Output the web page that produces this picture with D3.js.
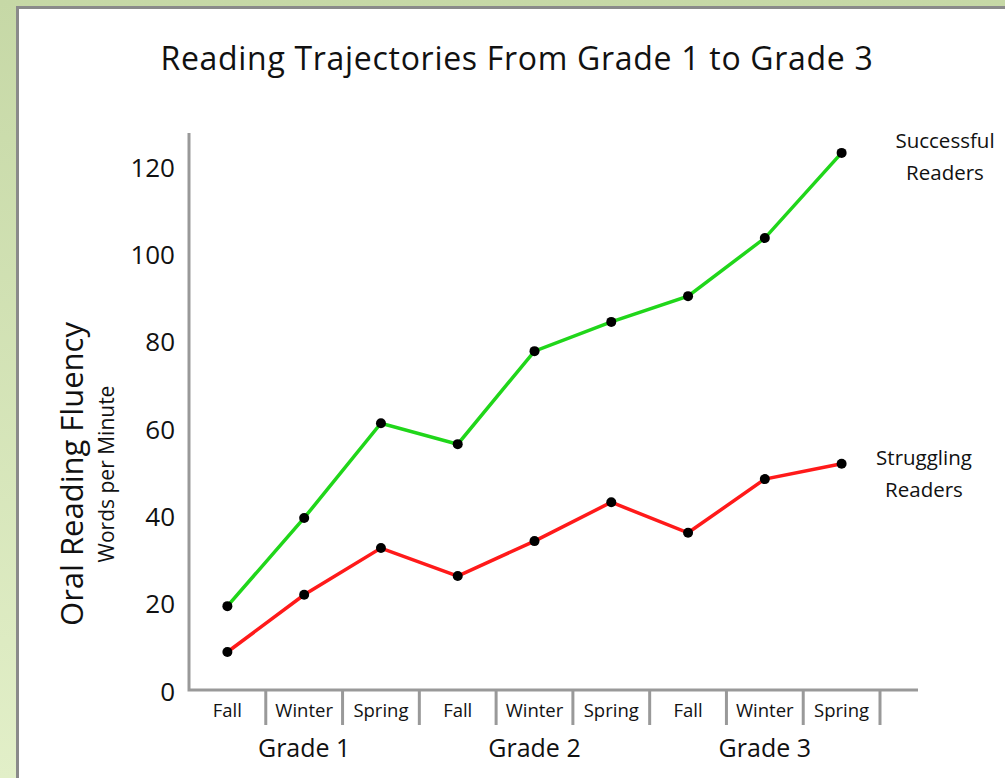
<!DOCTYPE html>
<html lang="en">
<head>
<meta charset="UTF-8">
<title>Reading Trajectories</title>
<script src="https://cdn.jsdelivr.net/npm/d3@7"></script>
<style>
  html, body { margin: 0; padding: 0; }
  body { width: 1005px; height: 778px; overflow: hidden; }
  text { font-family: "Open Sans", "Noto Sans", sans-serif; fill: #111; }
</style>
</head>
<body>
<div id="chart"></div>
<script>
// data
const seasons = ["Fall", "Winter", "Spring", "Fall", "Winter", "Spring", "Fall", "Winter", "Spring"];
const grades = ["Grade 1", "Grade 2", "Grade 3"];
const successful = [19.2, 39.4, 61.1, 56.3, 77.6, 84.3, 90.2, 103.5, 123];
const struggling = [8.7, 21.8, 32.5, 26.1, 34.1, 43.0, 36.0, 48.3, 51.8];
const yTicks = [0, 20, 40, 60, 80, 100, 120];

const w = 1005, h = 778;
const padLeft = 189, padRight = 880, padBottom = 690, padTop = 166;

const svg = d3.select("#chart").append("svg")
    .attr("width", w)
    .attr("height", h);

const defs = svg.append("defs");
const grad = defs.append("linearGradient")
    .attr("id", "bg").attr("x1", 0).attr("y1", 0).attr("x2", 0).attr("y2", 1);
grad.append("stop").attr("offset", "0%").attr("stop-color", "#c6d8a6");
grad.append("stop").attr("offset", "100%").attr("stop-color", "#e2efc8");

svg.append("rect").attr("width", w).attr("height", h).attr("fill", "url(#bg)");
// white panel with grey edge
svg.append("rect").attr("x", 16).attr("y", 6).attr("width", w).attr("height", h)
    .attr("fill", "#8a8a8a");
svg.append("rect").attr("x", 19).attr("y", 9).attr("width", w).attr("height", h)
    .attr("fill", "#fff");

const x = d3.scaleBand()
    .domain(d3.range(seasons.length))
    .range([padLeft, padRight]);
const y = d3.scaleLinear()
    .domain([0, 120])
    .range([padBottom, padTop]);

// title
svg.append("text")
    .attr("x", 517).attr("y", 70)
    .attr("text-anchor", "middle")
    .style("font-size", "32px")
    .style("letter-spacing", "0.7px")
    .text("Reading Trajectories From Grade 1 to Grade 3");

// y axis
const yAxis = d3.axisLeft(y).tickValues(yTicks).tickSize(0).tickPadding(14);
const gy = svg.append("g")
    .attr("transform", "translate(" + padLeft + ",2)")
    .call(yAxis);
gy.select(".domain").remove();
gy.selectAll("text").style("font-size", "26px").style("font-family", "Open Sans, sans-serif").attr("fill", "#111");

// axis lines
svg.append("path")
    .attr("d", "M" + padLeft + "," + 133 + "V" + padBottom + "H" + 918)
    .attr("fill", "none")
    .attr("stroke", "#999")
    .attr("stroke-width", 3);

// x ticks on band edges
svg.selectAll(".xtick")
    .data(d3.range(1, seasons.length + 1))
    .enter().append("line")
    .attr("class", "xtick")
    .attr("x1", d => x(d - 1) + x.bandwidth())
    .attr("x2", d => x(d - 1) + x.bandwidth())
    .attr("y1", padBottom)
    .attr("y2", padBottom + 35)
    .attr("stroke", "#999")
    .attr("stroke-width", 3);

svg.selectAll(".season")
    .data(seasons)
    .enter().append("text")
    .attr("class", "season")
    .attr("x", (d, i) => x(i) + x.bandwidth() / 2)
    .attr("y", padBottom + 27)
    .attr("text-anchor", "middle")
    .style("font-size", "18.5px")
    .text(d => d);

svg.selectAll(".grade")
    .data(grades)
    .enter().append("text")
    .attr("class", "grade")
    .attr("x", (d, i) => x(i * 3) + x.bandwidth() * 1.5)
    .attr("y", padBottom + 67)
    .attr("text-anchor", "middle")
    .style("font-size", "25px")
    .text(d => d);

// y axis titles
svg.append("text")
    .attr("transform", "translate(83,474) rotate(-90)")
    .attr("text-anchor", "middle")
    .style("font-size", "31px")
    .text("Oral Reading Fluency");
svg.append("text")
    .attr("transform", "translate(114,474) rotate(-90)")
    .attr("text-anchor", "middle")
    .style("font-size", "21px")
    .text("Words per Minute");

// series
const line = d3.line()
    .x((d, i) => x(i) + x.bandwidth() / 2)
    .y(d => y(d));

const series = [
    { values: successful, color: "#20d61a", label: ["Successful", "Readers"], lx: 945, ly: 148 },
    { values: struggling, color: "#ff1a1a", label: ["Struggling", "Readers"], lx: 924, ly: 465 }
];

series.forEach(s => {
    svg.append("path")
        .datum(s.values)
        .attr("d", line)
        .attr("fill", "none")
        .attr("stroke", s.color)
        .attr("stroke-width", 3.5);
    svg.append("g").selectAll("circle")
        .data(s.values)
        .enter().append("circle")
        .attr("cx", (d, i) => x(i) + x.bandwidth() / 2)
        .attr("cy", d => y(d))
        .attr("r", 5)
        .attr("fill", "#000");
    svg.append("g").selectAll("text")
        .data(s.label)
        .enter().append("text")
        .attr("x", s.lx)
        .attr("y", (d, i) => s.ly + i * 32)
        .attr("text-anchor", "middle")
        .style("font-size", "20.5px")
        .text(d => d);
});
</script>
</body>
</html>
